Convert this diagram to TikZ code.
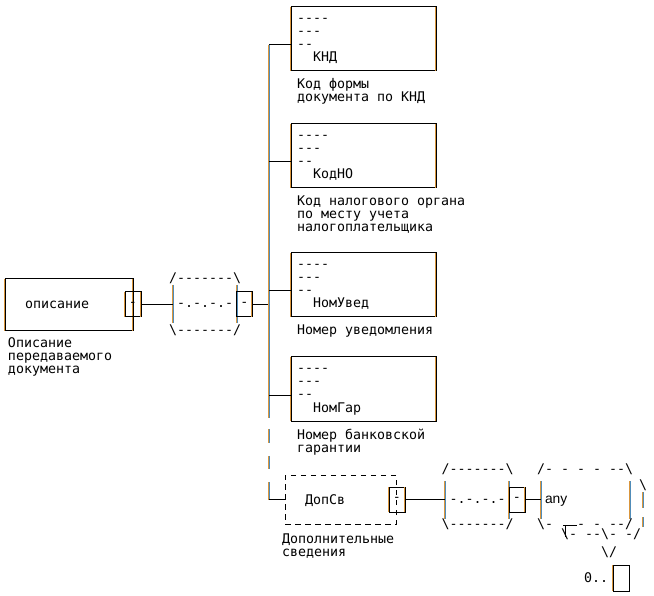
\documentclass[tikz,border=0pt]{standalone}
\usepackage{fontspec}
\newfontfamily\monof[Ligatures=TeXOff]{DejaVu Sans Mono}
\newfontfamily\anyf{Liberation Sans}
\definecolor{frA}{RGB}{218,150,60}
\definecolor{frB}{RGB}{80,140,185}
% glyph-like bar: orange left half, blue right half
\newcommand\vfr[2]{%
  \draw[fr1] ([xshift=-0.5pt]#1) -- ([xshift=-0.5pt]#2);
  \draw[fr2] ([xshift=0.5pt]#1) -- ([xshift=0.5pt]#2);}
% box edge: black line with orange fringe on its left
\newcommand\vfb[2]{%
  \draw[fr1, line width=0.8pt] ([xshift=-0.9pt]#1) -- ([xshift=-0.9pt]#2);}
\newcommand\childbox[3]{%
  \node[ebox] (#1) at (291,#2) {};
  \node[txt] (#1-a) at (297,#2+15.5) {----};
  \node[txt] (#1-b) at (297,#2+28.5) {---};
  \node[txt] (#1-c) at (297,#2+41.5) {--};
  \node[txt] (#1-t) at (313,#2+55) {#3};
  \vfb{#1.north west}{#1.south west}
  \vfb{#1.north east}{#1.south east}}
\begin{document}
\begin{tikzpicture}[x=1pt,y=-1pt,
  every node/.style={font=\monof\fontsize{13.3}{13.3}\selectfont, inner sep=0pt, outer sep=0pt},
  txt/.style={anchor=base west},
  ebox/.style={draw=black, line width=1pt, minimum width=145pt, minimum height=64pt, anchor=north west},
  sbox/.style={draw=black, line width=1pt, minimum width=16pt, minimum height=25pt, anchor=north west},
  comp/.style={minimum width=64pt, minimum height=38pt, anchor=north west},
  conn/.style={draw=black, line width=1pt},
  fr1/.style={draw=frA, line width=1pt},
  fr2/.style={draw=frB, line width=1pt},
]
\useasboundingbox[fill=white] (0,0) rectangle (654,596);

% root element
\node[draw=black, line width=1pt, minimum width=128pt, minimum height=52pt, anchor=north west] (root) at (5,279) {};
\vfb{root.north west}{root.south west}
\vfb{root.north east}{root.south east}
\node[txt] (rootT) at (25,308.5) {описание};
\node[sbox] (rootS) at (125,292) {-};
\vfb{rootS.north west}{rootS.south west}
\vfb{rootS.north east}{rootS.south east}
\node[txt] (rootL1) at (8,347.5) {Описание};
\node[txt] (rootL2) at (8,360.5) {передаваемого};
\node[txt] (rootL3) at (8,373.5) {документа};

% sequence compositor 1
\node[comp] (c1) at (172.5,285) {};
\vfr{c1.north west}{c1.south west}
\vfr{c1.north east}{c1.south east}
\node[txt] (c1top) at (169,282.6) {/-------\textbackslash};
\node[txt] (c1mid) at (177,307.6) {-.-.-.-};
\node[txt] (c1bot) at (169,334.6) {\textbackslash-------/};
\node[sbox] (c1s) at (236.5,292) {-};
\vfb{c1s.north east}{c1s.south east}
\draw[conn] (rootS.east) -- (rootS.east -| c1.west);
\coordinate (jc) at (269,304.5);
\draw[conn] (c1s.east) -- (jc);

% trunk
\coordinate (tTop) at (269,45);
\coordinate (tSolid) at (269,418);
\coordinate (tBot) at (269,499.5);
\coordinate (tDash) at (269,429);
\vfr{tTop}{tSolid}
\draw[fr1, dash pattern=on 18pt off 13pt on 13pt off 13pt] ([xshift=-0.5pt]tBot) -- ([xshift=-0.5pt]tDash);
\draw[fr2, dash pattern=on 18pt off 13pt on 13pt off 13pt] ([xshift=0.5pt]tBot) -- ([xshift=0.5pt]tDash);

% children
\childbox{knd}{7}{КНД}
\node[txt] (kndL1) at (297,89) {Код формы};
\node[txt] (kndL2) at (297,102) {документа по КНД};
\coordinate (j1) at (269,45);
\draw[conn] (j1) -- (j1 -| knd.west);

\childbox{kodno}{124}{КодНО}
\node[txt] (kodnoL1) at (297,206) {Код налогового органа};
\node[txt] (kodnoL2) at (297,219) {по месту учета};
\node[txt] (kodnoL3) at (297,232) {налогоплательщика};
\coordinate (j2) at (269,162);
\draw[conn] (j2) -- (j2 -| kodno.west);

\childbox{nomuv}{253}{НомУвед}
\node[txt] (nomuvL1) at (297,335) {Номер уведомления};
\coordinate (j3) at (269,291);
\draw[conn] (j3) -- (j3 -| nomuv.west);

\childbox{nomgar}{357}{НомГар}
\node[txt] (nomgarL1) at (297,439) {Номер банковской};
\node[txt] (nomgarL2) at (297,452) {гарантии};
\coordinate (j4) at (269,395);
\draw[conn] (j4) -- (j4 -| nomgar.west);

% optional element ДопСв
\node[draw=black, line width=1pt, dash pattern=on 5.5pt off 4.5pt, minimum width=111pt, minimum height=49pt, anchor=north west] (dop) at (285,475) {};
\node[txt] (dopT) at (305,504.5) {ДопСв};
\node[sbox] (dopS) at (389,487) {-};
\vfb{dopS.north west}{dopS.south west}
\vfb{dopS.north east}{dopS.south east}
\node[txt] (dopL1) at (282,543.5) {Дополнительные};
\node[txt] (dopL2) at (282,556.5) {сведения};
\draw[conn] (tBot) -- (tBot -| dop.west);

% sequence compositor 2
\node[comp] (c2) at (445,481) {};
\vfr{c2.north west}{c2.south west}
\vfr{c2.north east}{c2.south east}
\node[txt] (c2top) at (441.5,473.6) {/-------\textbackslash};
\node[txt] (c2mid) at (449.5,503.6) {-.-.-.-};
\node[txt] (c2bot) at (441.5,528.6) {\textbackslash-------/};
\node[sbox] (c2s) at (509,487) {-};
\vfb{c2s.north east}{c2s.south east}
\draw[conn] (dopS.east) -- (dopS.east -| c2.west);

% any wildcard
\node[comp, minimum width=89pt] (anyb) at (541,481) {};
\vfr{anyb.north west}{anyb.south west}
\vfr{anyb.north east}{anyb.south east}
\node[txt, font=\anyf\fontsize{13.8}{13.8}\selectfont] (anyT) at (545,503.5) {any};
\draw[conn] (c2s.east) -- (c2s.east -| anyb.west);
\node[txt] (anytop) at (537,473.6) {/- - - - --\textbackslash};
\node[txt] (anybl) at (537,528.6) {\textbackslash-};
\node[txt] (anybr) at (577,528.6) {- - --/};
\draw[conn] (563,525) -- (577,525);
\draw[conn] (565,525) -- (565,537);
\node[txt] (sh1) at (639,489.5) {\textbackslash};
\vfr{643,492}{643,508}
\vfr{643,517}{643,527}
\node[txt] (sh2) at (561,538.6) {\textbackslash- --\textbackslash- -/};
\node[txt] (sh3) at (601,556) {\textbackslash/};
\node[txt] (occ) at (584,582) {0..};
\node[draw=black, line width=1pt, minimum width=16pt, minimum height=26pt, anchor=north west] (occB) at (613,565) {};
\vfb{occB.north west}{occB.south west}
\end{tikzpicture}
\end{document}
